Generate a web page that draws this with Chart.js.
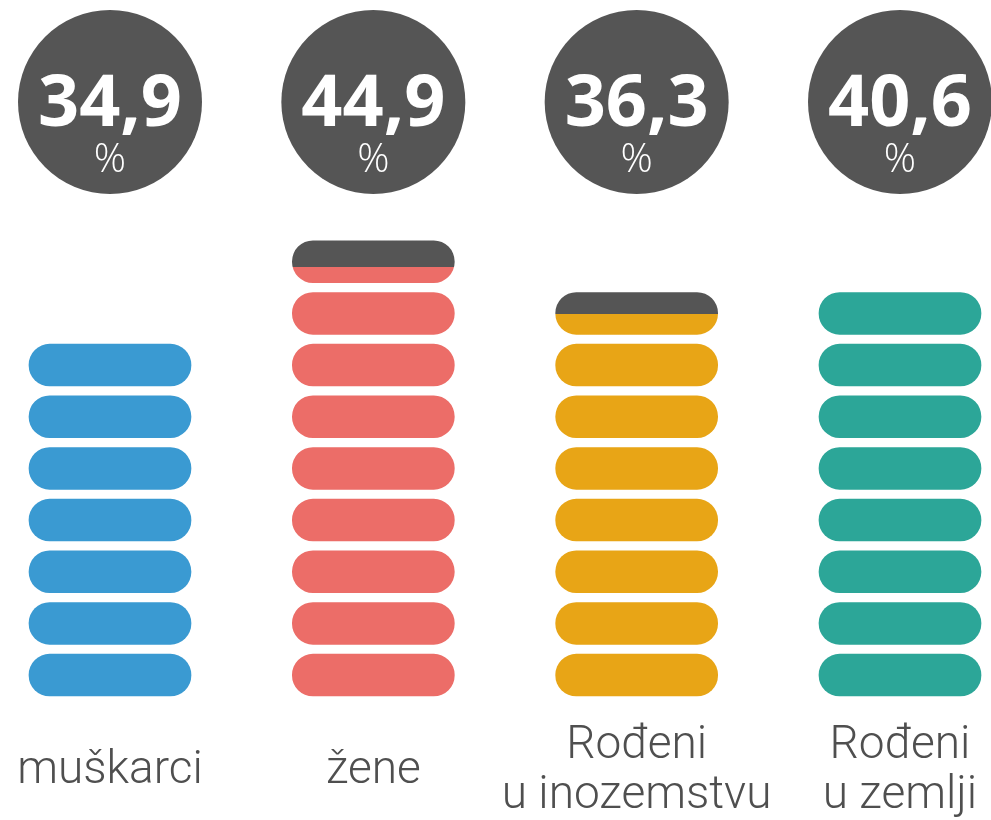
<!DOCTYPE html>
<html>
<head>
<meta charset="utf-8">
<script src="https://cdn.jsdelivr.net/npm/chart.js@4/dist/chart.umd.min.js"></script>
<style>
  html, body { margin: 0; padding: 0; background: #ffffff; }
  #wrap { width: 991px; height: 820px; position: relative; }
</style>
</head>
<body>
<div id="wrap"><canvas id="c" width="991" height="820"></canvas></div>
<script>
// ---- data ----
const categories = ['muškarci', 'žene', ['Rođeni', 'u inozemstvu'], ['Rođeni', 'u zemlji']];
const percentValues = [34.9, 44.9, 36.3, 40.6];
// number of coloured pills; fractional part = coloured share of the top (partly dark) pill
const pillLevels = [7, 8.37, 7.49, 8];
const pillColors = ['#3a9ad2', '#ec6d68', '#e8a516', '#2ca698'];
const darkColor = '#555555';

const PILL = 0.81;           // pill height in pill-slot units
const MAX_SLOTS = 9;

const datasets = [];
for (let i = 0; i < MAX_SLOTS; i++) {
  datasets.push({
    label: 'pill ' + (i + 1),
    data: pillLevels.map(l => (i < Math.ceil(l) ? [i, i + PILL] : null)),
    backgroundColor: (ctx) => {
      const idx = ctx.dataIndex;
      if (idx === undefined || idx === null) return darkColor;
      const frac = pillLevels[idx] - i;
      if (frac >= 1) return pillColors[idx];
      if (frac <= 0) return darkColor;
      const ys = ctx.chart.scales && ctx.chart.scales.y;
      if (!ys || !ctx.chart.chartArea) return darkColor;
      const yb = ys.getPixelForValue(i);
      const yt = ys.getPixelForValue(i + PILL);
      if (!isFinite(yb) || !isFinite(yt) || yb === yt) return darkColor;
      const g = ctx.chart.ctx.createLinearGradient(0, yb, 0, yt);
      g.addColorStop(0, pillColors[idx]);
      g.addColorStop(frac, pillColors[idx]);
      g.addColorStop(frac, darkColor);
      g.addColorStop(1, darkColor);
      return g;
    },
    borderWidth: 0,
    borderRadius: 100,
    borderSkipped: false,
    grouped: false,
    barThickness: 162,
    clip: false
  });
}

const circlePlugin = {
  id: 'circles',
  afterDraw(chart) {
    const c = chart.ctx;
    const xs = chart.scales.x;
    c.save();
    percentValues.forEach((v, i) => {
      const x = xs.getPixelForValue(i);
      const cy = 102;
      c.beginPath();
      c.arc(x, cy, 92, 0, Math.PI * 2);
      c.fillStyle = darkColor;
      c.fill();
      c.fillStyle = '#ffffff';
      c.textAlign = 'center';
      c.textBaseline = 'alphabetic';
      c.font = 'bold 72px "Open Sans", sans-serif';
      c.fillText(v.toFixed(1).replace('.', ','), x, 126);
      c.font = '300 40px "Open Sans", sans-serif';
      c.fillText('%', x, 172);
    });
    c.restore();
  }
};

const chart = new Chart(document.getElementById('c'), {
  type: 'bar',
  data: { labels: categories, datasets },
  options: {
    responsive: false,
    animation: false,
    layout: { padding: { top: 231, left: 110, right: 91, bottom: 0 } },
    plugins: { legend: { display: false }, tooltip: { enabled: false } },
    scales: {
      x: {
        offset: false,
        grid: { display: false },
        border: { display: false },
        ticks: {
          autoSkip: false,
          maxRotation: 0,
          minRotation: 0,
          crossAlign: 'center',
          padding: 42,
          color: '#4f4f4f',
          font: { family: 'Roboto', size: 46, weight: '300', lineHeight: 1.087 }
        },
        afterFit(s) { s.height = 124; s.paddingLeft = 0; s.paddingRight = 0; }
      },
      y: {
        display: false,
        min: 0,
        max: MAX_SLOTS
      }
    }
  },
  plugins: [circlePlugin]
});
chart.update();
</script>
</body>
</html>
